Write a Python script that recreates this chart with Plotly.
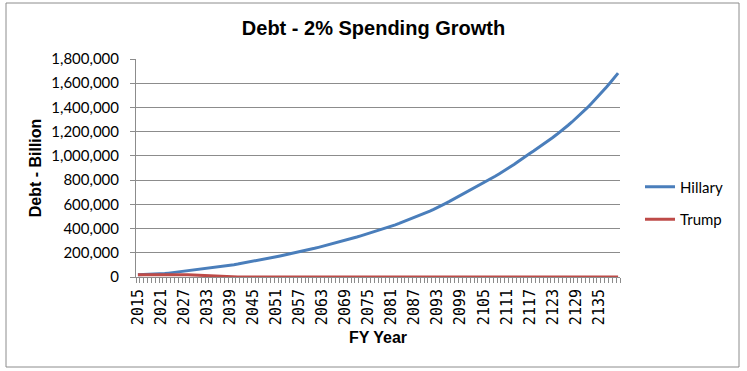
import plotly.graph_objects as go

years = list(range(2015, 2141))

hillary = [
    19000, 19500, 20200, 21000, 22000, 23300, 24800, 28500, 32000, 35800,
    39700, 43700, 47800, 52000, 56400, 61000, 65000, 69000, 73000, 77000,
    81000, 85000, 89000, 93000, 97000, 102000, 107000, 112500, 118000, 124000,
    130000, 136000, 142000, 148000, 154000, 160500, 167000, 173500, 180000, 186500,
    193000, 200000, 207000, 214500, 222000, 229500, 237000, 245000, 253000, 261000,
    269000, 277500, 286000, 294500, 303000, 312000, 321000, 330000, 339500, 349000,
    358500, 368000, 377500, 387000, 397000, 408000, 419000, 430500, 442000, 454000,
    466000, 478500, 491000, 504000, 517000, 530500, 544000, 558000, 572000, 589000,
    606000, 622000, 639000, 656000, 673000, 690000, 707000, 724500, 742000, 760000,
    777500, 795000, 813000, 832000, 851000, 870000, 890000, 910000, 931000, 954000,
    978000, 1000000, 1020000, 1041000, 1062000, 1084000, 1106000, 1129000, 1152000, 1176000,
    1200000, 1226000, 1253000, 1280000, 1308000, 1337000, 1367000, 1398000, 1431000, 1464000,
    1498000, 1533000, 1569000, 1606000, 1644000, 1683000,
]

trump = [
    19000, 19500, 20000, 20500, 21000, 21500, 22000, 22000, 22000, 21500,
    21000, 20500, 19500, 18500, 17000, 15000, 12500, 10000, 7500, 5000,
    3000, 1500, 500, 0, 0, 0, 0, 0, 0, 0,
    0, 0, 0, 0, 0, 0, 0, 0, 0, 0,
    0, 0, 0, 0, 0, 0, 0, 0, 0, 0,
    0, 0, 0, 0, 0, 0, 0, 0, 0, 0,
    0, 0, 0, 0, 0, 0, 0, 0, 0, 0,
    0, 0, 0, 0, 0, 0, 0, 0, 0, 0,
    0, 0, 0, 0, 0, 0, 0, 0, 0, 0,
    0, 0, 0, 0, 0, 0, 0, 0, 0, 0,
    0, 0, 0, 0, 0, 0, 0, 0, 0, 0,
    0, 0, 0, 0, 0, 0, 0, 0, 0, 0,
    0, 0, 0, 0, 0, 0,
]

tick_years = [2015, 2021, 2027, 2033, 2039, 2045, 2051, 2057, 2063, 2069,
              2075, 2081, 2087, 2093, 2099, 2105, 2111, 2117, 2123, 2129, 2135]
tick_labels = [str(y) for y in tick_years]

y_ticks = [0, 200000, 400000, 600000, 800000, 1000000, 1200000,
           1400000, 1600000, 1800000]

GRID = "#8c8c8c"

fig = go.Figure()
fig.add_trace(go.Scatter(x=years, y=hillary, mode="lines", name="Hillary",
                         line=dict(color="#4A7EBB", width=3), legendgroup="h"))
fig.add_trace(go.Scatter(x=years, y=trump, mode="lines", name="Trump",
                         line=dict(color="#BE4B48", width=3), legendgroup="t"))

L, R, T, B = 136, 127, 59, 94
W, H = 747, 371
pw = W - L - R
ph = H - T - B

def px_x(p):
    return (p - L) / pw

def px_y(p):
    return (H - B - p) / ph

fig.update_layout(
    width=W, height=H,
    margin=dict(l=L, r=R, t=T, b=B, autoexpand=False),
    paper_bgcolor="white", plot_bgcolor="white",
    title=dict(text="<b>Debt - 2% Spending Growth</b>", x=0.5, xanchor="center",
               y=1 - 28 / H, yanchor="middle",
               font=dict(family="Liberation Sans, Arial", size=20, color="black")),
    xaxis=dict(
        range=[2014.5, 2140.5], tickmode="array", tickvals=tick_years,
        ticktext=tick_labels, tickangle=-90, ticks="", showgrid=False,
        zeroline=False, showline=True, linecolor=GRID, linewidth=1,
        ticklabelstandoff=5,
        tickfont=dict(family="DejaVu Sans Mono", size=15, color="black"),
        minor=dict(ticks="outside", tick0=2014.5, dtick=1, ticklen=5,
                   tickcolor=GRID, showgrid=False),
        title=dict(text="<b>FY Year</b>", standoff=7,
                   font=dict(family="Liberation Sans, Arial", size=16, color="black")),
    ),
    yaxis=dict(
        range=[0, 1800000], tickmode="array", tickvals=y_ticks,
        tickformat=",", ticks="outside", ticklen=5, tickcolor=GRID,
        showgrid=True, gridcolor=GRID, gridwidth=1, zeroline=False,
        showline=True, linecolor=GRID, linewidth=1,
        ticklabelstandoff=8,
        tickfont=dict(family="Lato", size=15, color="black"),
        title=dict(text="<b>Debt - Billion</b>", standoff=5,
                   font=dict(family="Liberation Sans, Arial", size=16, color="black")),
    ),
    legend=dict(x=px_x(640), y=px_y(203), xanchor="left", yanchor="middle",
                font=dict(family="Lato", size=15, color="black"),
                tracegroupgap=10, bgcolor="rgba(0,0,0,0)"),
    shapes=[dict(type="rect", xref="paper", yref="paper",
                 x0=px_x(6), x1=px_x(739), y0=px_y(367), y1=px_y(3),
                 line=dict(color="#8c8c8c", width=1), fillcolor="rgba(0,0,0,0)",
                 layer="below")],
)

fig.write_html("out.html", config={"displayModeBar": False},
               post_script="document.body.style.margin='0';document.body.style.padding='0';")
